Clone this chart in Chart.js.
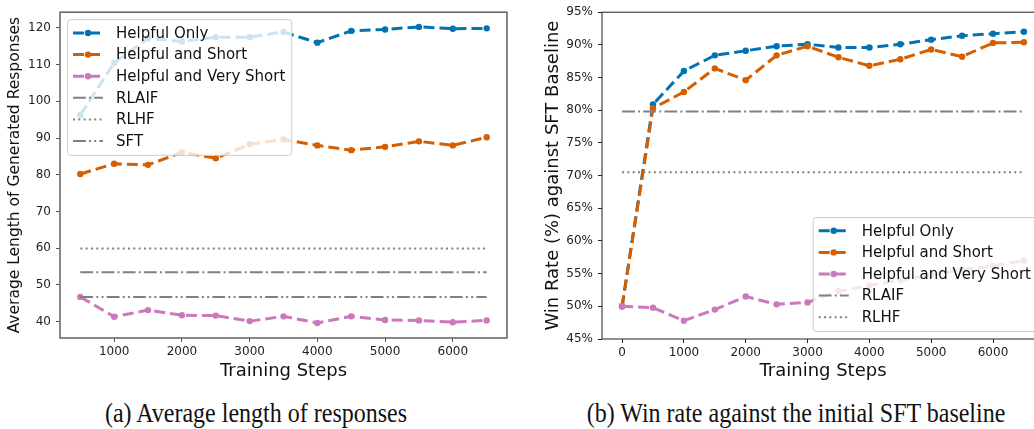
<!DOCTYPE html>
<html>
<head>
<meta charset="utf-8">
<script src="https://cdn.jsdelivr.net/npm/chart.js@4/dist/chart.umd.min.js"></script>
<style>
  html, body { margin:0; padding:0; background:#fff; }
  body { width:1034px; height:429px; overflow:hidden; position:relative; }
  canvas { position:absolute; top:0; }
  #cLen { left:0; }
  #cWin { left:520px; }
  .cap { position:absolute; top:402px; line-height:1; font-family:"Liberation Serif", serif; font-size:24px; color:#111;
         white-space:nowrap; transform-origin:50% 100%; transform:translateX(-50%) scaleY(1.1); }
</style>
</head>
<body>
<canvas id="cLen" width="517" height="390"></canvas>
<canvas id="cWin" width="534" height="390"></canvas>
<div class="cap" style="left:256px">(a) Average length of responses</div>
<div class="cap" style="left:796px">(b) Win rate against the initial SFT baseline</div>
<script>
'use strict';
// (a) average length
const lenSteps = [500,1000,1500,2000,2500,3000,3500,4000,4500,5000,5500,6000,6500];
const lenHelpfulOnly = [96.3,110.5,117.2,116.3,117.5,117.5,118.9,116.0,119.2,119.6,120.3,119.8,119.9];
const lenHelpfulShort = [80.2,83.0,82.7,86.1,84.5,88.3,89.6,88.0,86.7,87.6,89.1,88.0,90.2];
const lenVeryShort = [46.7,41.3,43.1,41.7,41.6,40.1,41.4,39.6,41.4,40.4,40.3,39.8,40.3];
const lenRLAIF = 53.4, lenRLHF = 59.9, lenSFT = 46.7;
const lenXTicks = [1000,2000,3000,4000,5000,6000];
const lenYTicks = [40,50,60,70,80,90,100,110,120];

// (b) win rate
const winSteps = [0,500,1000,1500,2000,2500,3000,3500,4000,4500,5000,5500,6000,6500];
const winHelpfulOnly = [50.0,80.9,86.0,88.4,89.1,89.8,90.1,89.6,89.6,90.1,90.8,91.4,91.7,92.0];
const winHelpfulShort = [50.0,80.3,82.8,86.4,84.6,88.4,89.8,88.1,86.8,87.8,89.3,88.2,90.3,90.4];
const winVeryShort = [50.0,49.8,47.8,49.5,51.5,50.3,50.6,52.3,53.2,54.0,54.8,55.6,56.2,57.0];
const winRLAIF = 79.8, winRLHF = 70.5;
const winXTicks = [0,1000,2000,3000,4000,5000,6000];
const winYTicks = [45,50,55,60,65,70,75,80,85,90,95];

const C_BLUE='#0173b2', C_ORANGE='#d55e00', C_PINK='#cc78bc', C_GRAY='#808080';
const FONT='"DejaVu Sans", sans-serif';
const DASH=[11,5], DASHDOT=[12.8,3.2,2,3.2], DOTS=[2,3.3], DASHDOTDOT=[12.8,3.2,2,3.2,2,3.2];

const pts = (xs, ys) => xs.map((x,i)=>({x, y:ys[i]}));
const flat = (xs, v) => [{x:xs[0], y:v}, {x:xs[xs.length-1], y:v}];

function series(label, xs, ys, color) {
  return { label, data:pts(xs,ys), borderColor:color, backgroundColor:color, borderWidth:3, borderDash:DASH,
    pointRadius:3.2, pointBorderWidth:0, pointBackgroundColor:color, tension:0 };
}
function baseline(label, xs, v, dash) {
  return { label, data:flat(xs,v), borderColor:C_GRAY, borderWidth:2, borderDash:dash, pointRadius:0, tension:0 };
}
// later series on top, as matplotlib does
const stack = list => list.map((d,i)=>Object.assign(d, {order: 20-i}));

// frame round the plot, like matplotlib spines
const frame = {
  id:'frame',
  afterDatasetsDraw(chart, args, o) {
    const {ctx, chartArea:a} = chart;
    ctx.save();
    ctx.strokeStyle = o.color; ctx.lineWidth = o.width;
    ctx.strokeRect(a.left, a.top, a.right-a.left, a.bottom-a.top);
    ctx.restore();
  }
};

// legend box inside the axes
const boxLegend = {
  id:'boxLegend',
  afterDraw(chart, args, o) {
    const {ctx, chartArea:a} = chart;
    const items = chart.data.datasets;
    ctx.save();
    ctx.font = '15px ' + FONT;
    const rowH=21.6, sample=30, gap=13, padX=6, padY=3;
    const tw = Math.max(...items.map(d=>ctx.measureText(d.label).width));
    const w = padX + sample + gap + tw + padX, h = items.length*rowH + 2*padY;
    let x0, y0;
    if (o.loc==='upper left') { x0 = a.left+7; y0 = a.top+7; }
    else { x0 = a.right-7-w; y0 = a.bottom-8-h; }
    ctx.beginPath();
    ctx.roundRect(x0+0.5, y0+0.5, w, h, 3);
    ctx.fillStyle = 'rgba(255,255,255,0.8)'; ctx.fill();
    ctx.strokeStyle = '#cccccc'; ctx.lineWidth = 1; ctx.stroke();
    items.forEach((d,i)=>{
      const cy = y0 + padY + rowH*(i+0.5), lx = x0+padX;
      ctx.beginPath();
      ctx.setLineDash(d.borderDash||[]);
      ctx.strokeStyle = d.borderColor; ctx.lineWidth = d.borderWidth;
      ctx.moveTo(lx, cy); ctx.lineTo(lx+sample, cy); ctx.stroke();
      ctx.setLineDash([]);
      if (d.pointRadius>0) {
        ctx.beginPath(); ctx.fillStyle = d.borderColor;
        ctx.arc(lx+sample/2, cy, d.pointRadius, 0, Math.PI*2); ctx.fill();
      }
      ctx.fillStyle = '#111'; ctx.textBaseline = 'middle';
      ctx.fillText(d.label, lx+sample+gap, cy+1);
    });
    ctx.restore();
  }
};

function axes(o) {
  const tickGrid = { display:true, drawOnChartArea:false, drawTicks:true, tickLength:4, color:o.tickColor, lineWidth:1 };
  return {
    x: { type:'linear', min:o.xmin, max:o.xmax, grid:tickGrid, border:{display:false},
      afterBuildTicks: s => { s.ticks = o.xticks.map(v=>({value:v})); },
      afterFit: s => { s.height = o.xh; },
      ticks:{ color:'#222', font:{family:FONT, size:12}, padding:3, maxRotation:0, autoSkip:false, callback: v => String(v) },
      title:{ display:true, text:'Training Steps', color:'#111', font:{family:FONT, size:18}, padding:{top:0,bottom:7.5} } },
    y: { type:'linear', min:o.ymin, max:o.ymax, grid:tickGrid, border:{display:false},
      afterBuildTicks: s => { s.ticks = o.yticks.map(v=>({value:v})); },
      afterFit: s => { s.width = o.yw; },
      ticks:{ color:'#222', font:{family:FONT, size:12}, padding:5, autoSkip:false, callback:o.fmt },
      title:{ display:true, text:o.ytitle, color:'#111', font:{family:FONT, size:o.ytsize}, padding:{top:o.ytpad,bottom:0} } }
  };
}

new Chart(document.getElementById('cLen'), {
  type:'line',
  data:{ datasets: stack([
    series('Helpful Only', lenSteps, lenHelpfulOnly, C_BLUE),
    series('Helpful and Short', lenSteps, lenHelpfulShort, C_ORANGE),
    series('Helpful and Very Short', lenSteps, lenVeryShort, C_PINK),
    baseline('RLAIF', lenSteps, lenRLAIF, DASHDOT),
    baseline('RLHF', lenSteps, lenRLHF, DOTS),
    baseline('SFT', lenSteps, lenSFT, DASHDOTDOT)
  ])},
  options:{
    responsive:false, animation:false, devicePixelRatio:1,
    layout:{ padding:{left:0, right:10, top:5, bottom:0} },
    scales: axes({ xmin:200, xmax:6800, xticks:lenXTicks, ymin:35.5, ymax:124.3, yticks:lenYTicks,
      xh:52, yw:60, tickColor:'#555', ytitle:'Average Length of Generated Responses', ytsize:15.5, ytpad:5.7,
      fmt: v => String(v) }),
    plugins:{ legend:{display:false}, tooltip:{enabled:false},
      frame:{ color:'#6a6a6a', width:1.6 }, boxLegend:{ loc:'upper left' } }
  },
  plugins:[frame, boxLegend]
});

new Chart(document.getElementById('cWin'), {
  type:'line',
  data:{ datasets: stack([
    series('Helpful Only', winSteps, winHelpfulOnly, C_BLUE),
    series('Helpful and Short', winSteps, winHelpfulShort, C_ORANGE),
    series('Helpful and Very Short', winSteps, winVeryShort, C_PINK),
    baseline('RLAIF', winSteps, winRLAIF, DASHDOT),
    baseline('RLHF', winSteps, winRLHF, DOTS)
  ])},
  options:{
    responsive:false, animation:false, devicePixelRatio:1,
    layout:{ padding:{left:0, right:10, top:9.5, bottom:0} },
    scales: axes({ xmin:-325, xmax:6825, xticks:winXTicks, ymin:45, ymax:95, yticks:winYTicks,
      xh:51, yw:82, tickColor:'#222', ytitle:'Win Rate (%) against SFT Baseline', ytsize:18, ytpad:22.2,
      fmt: v => v + '%' }),
    plugins:{ legend:{display:false}, tooltip:{enabled:false},
      frame:{ color:'#222', width:1 }, boxLegend:{ loc:'lower right' } }
  },
  plugins:[frame, boxLegend]
});
</script>
</body>
</html>
